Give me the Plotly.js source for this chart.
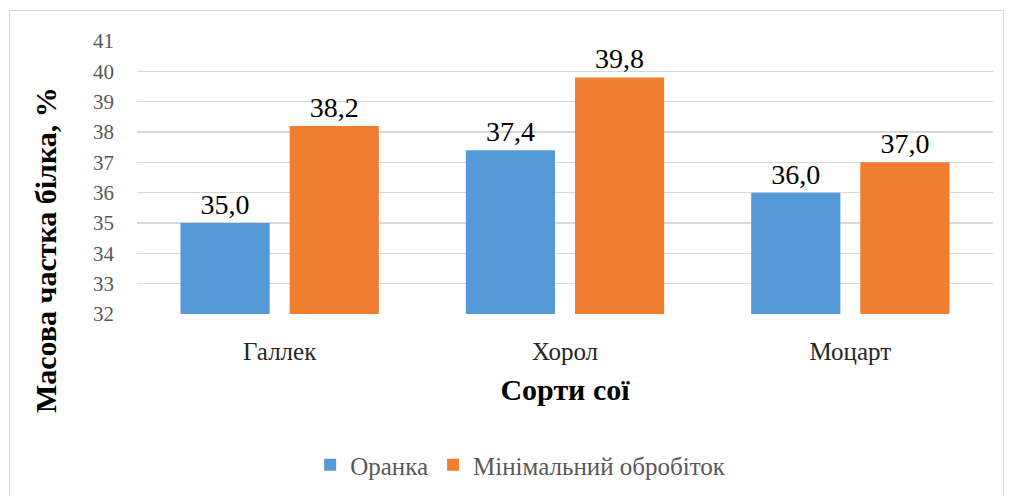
<!DOCTYPE html>
<html><head><meta charset="utf-8">
<script src="https://cdn.plot.ly/plotly-3.0.1.min.js"></script>
<style>
html,body{margin:0;padding:0;background:#fff;}
#wrap{position:relative;width:1011px;height:496px;}
#chart{width:1011px;height:496px;}
#frame{position:absolute;left:9px;top:10px;width:995px;height:490px;border:1px solid #d9d9d9;pointer-events:none;box-sizing:border-box;}
</style></head>
<body>
<div id="wrap"><div id="chart"></div><div id="frame"></div></div>
<script>
const categories = ['Галлек', 'Хорол', 'Моцарт'];
const seriesNames = ['Оранка', 'Мінімальний обробіток'];
const oranka = [35.0, 37.4, 36.0];
const minimal = [38.2, 39.8, 37.0];
const yTicks = [32, 33, 34, 35, 36, 37, 38, 39, 40, 41];

const font = '"Liberation Serif", "Times New Roman", "DejaVu Serif", serif';
function tr(name, y, color) {
  return {
    type: 'bar', name: name, x: categories, y: y,
    base: 0,
    marker: {color: color, line: {width: 0}},
    texttemplate: '%{y:.1f}', textposition: 'outside', cliponaxis: false,
    textfont: {family: font, size: 28, color: '#000'}
  };
}
const data = [tr(seriesNames[0], oranka, '#5699d8'), tr(seriesNames[1], minimal, '#f07e2e')];
const layout = {
  width: 1011, height: 496,
  margin: {l: 137, r: 18, t: 41, b: 182},
  separators: ', ',
  paper_bgcolor: '#fff', plot_bgcolor: '#fff',
  barmode: 'group', bargap: 0.235, bargroupgap: 0.183,
  font: {family: font},
  xaxis: {
    automargin: false,
    showgrid: false, ticks: '', showline: false, zeroline: false,
    tickfont: {family: font, size: 25, color: '#262626'},
    ticklabelstandoff: 20,
    title: {text: 'Сорти сої', font: {family: font, size: 30, color: '#000', weight: 'bold'}, standoff: 14}
  },
  yaxis: {
    automargin: false,
    range: [32, 41], tickvals: yTicks, ticktext: yTicks.map(String),
    showgrid: true, gridcolor: '#d9d9d9', gridwidth: 1.5,
    zeroline: false, showline: false, ticks: '',
    tickfont: {family: font, size: 21, color: '#595959'},
    ticklabelstandoff: 22
  },
  showlegend: true,
  legend: {orientation: 'h', xref: 'container', yref: 'container', x: 0.515, xanchor: 'center', y: 0.0625, yanchor: 'middle',
    font: {family: font, size: 25, color: '#595959'}, itemwidth: 30, traceorder: 'normal'},
  annotations: [{
    text: '<b>Масова частка білка, %</b>', textangle: -90,
    xref: 'paper', yref: 'paper', x: -0.1075, y: 0.234,
    xanchor: 'center', yanchor: 'middle', showarrow: false,
    font: {family: font, size: 30, color: '#000'}
  }]
};
Plotly.newPlot('chart', data, layout, {displayModeBar: false, staticPlot: true});
</script>
</body></html>
